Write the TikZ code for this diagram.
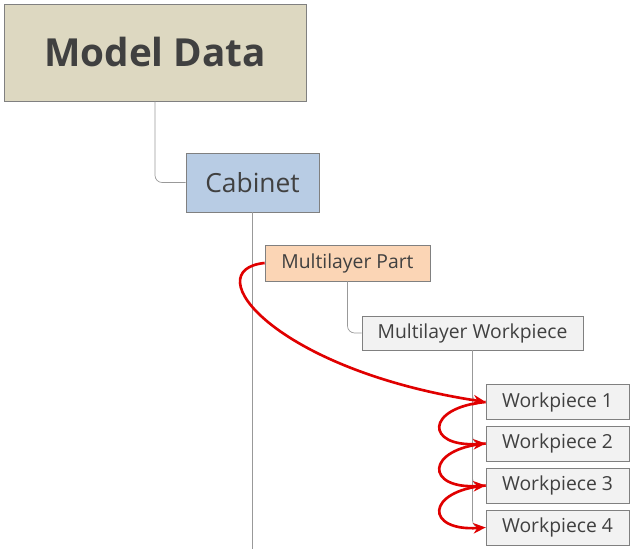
\documentclass[tikz,border=0pt]{standalone}
\usepackage{fontspec}
\setmainfont{Open Sans}
\usetikzlibrary{arrows.meta}
\definecolor{mdfill}{RGB}{221,216,193}
\definecolor{cabfill}{RGB}{184,204,228}
\definecolor{partfill}{RGB}{251,213,181}
\definecolor{wpfill}{RGB}{242,242,242}
\definecolor{boxline}{RGB}{128,128,128}
\definecolor{linkred}{RGB}{224,0,0}
\tikzset{
  box/.style={draw=boxline, inner sep=0pt, text=black!75},
  tree/.style={draw=boxline!80, rounded corners=4pt},
  link/.style={draw=linkred, line width=1.5pt, -{Stealth[length=7pt,width=6pt]}}
}

\begin{document}
\begin{tikzpicture}
        \useasboundingbox (0, 0) rectangle (12.72, -10.98);

        \node[box, fill = mdfill, minimum width = 6.04cm, minimum height = 1.94cm,
            font = \bfseries\fontsize{22}{26}\selectfont] (md) at (3.1, -1.05) {Model Data};
        \node[box, fill = cabfill, minimum width = 2.66cm, minimum height = 1.18cm,
            font = \fontsize{15}{18}\selectfont] (cab) at (5.05, -3.65) {Cabinet};
        \node[box, fill = partfill, minimum width = 3.3cm, minimum height = 0.72cm,
            font = \fontsize{11}{13}\selectfont] (mp) at (6.95, -5.26) {Multilayer Part};
        \node[box, fill = wpfill, minimum width = 4.42cm, minimum height = 0.68cm,
            font = \fontsize{11}{13}\selectfont] (mw) at (9.45, -6.66) {Multilayer Workpiece};
        \foreach \i/\y in {1/-8.04, 2/-8.87, 3/-9.71, 4/-10.55}
            \node[box, fill = wpfill, minimum width = 2.86cm, minimum height = 0.7cm,
                font = \fontsize{11}{13}\selectfont] (w\i) at (11.15, \y) {Workpiece \i};

        \coordinate (cabend) at (5.05, -10.98);

        % tree lines
        \draw[tree] (md.south) |- (cab.west);
        \draw[tree] (cab.south) -- (cabend);
        \draw[tree] (mp.south) |- (mw.west);
        \foreach \i in {1, ..., 4}
            \draw[tree] (mw.south) |- (w\i.west);

        % red links
        \draw[link] (mp.west) .. controls (3.9, -5.4) and (5.5, -7.4) .. (w1.west);
        \draw[link] (w1.west) .. controls (8.5, -8.15) and (8.5, -8.95) .. (w2.west);
        \draw[link] (w2.west) .. controls (8.5, -8.98) and (8.5, -9.79) .. (w3.west);
        \draw[link] (w3.west) .. controls (8.5, -9.82) and (8.5, -10.63) .. (w4.west);
    \end{tikzpicture}
\end{document}
